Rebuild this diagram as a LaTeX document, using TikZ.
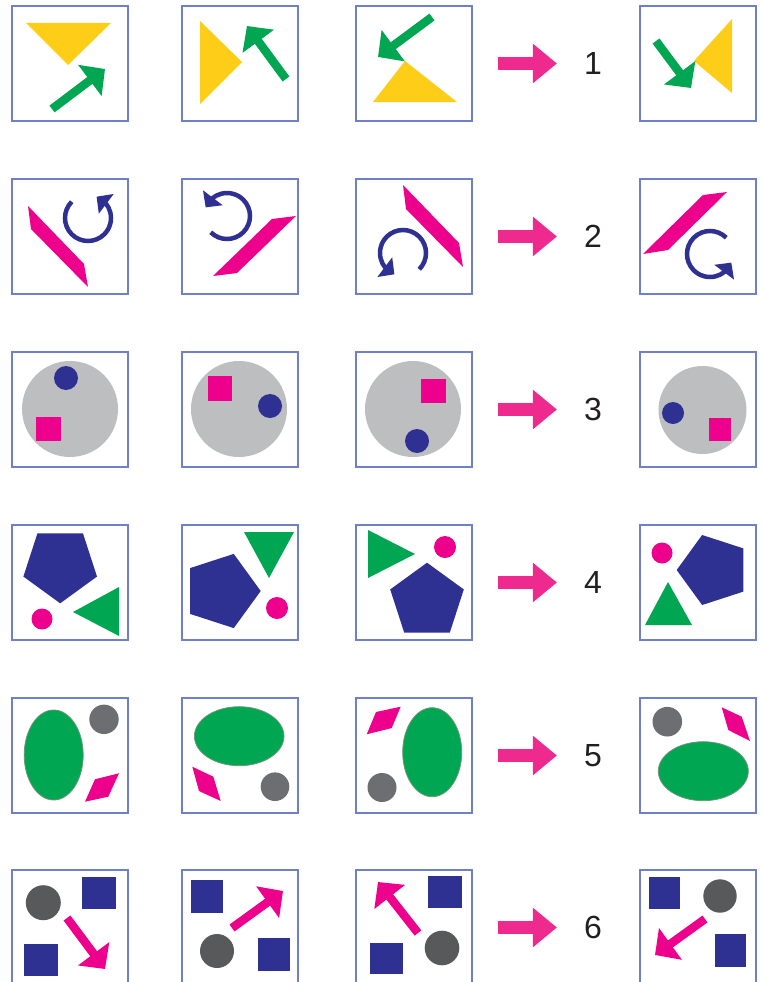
\documentclass[tikz,border=0pt]{standalone}
\usepackage{fontspec}
\setmainfont{Liberation Sans}
\usetikzlibrary{arrows.meta,bending}

\definecolor{framecol}{RGB}{112,128,200}
\definecolor{gold}{RGB}{253,205,24}
\definecolor{leaf}{RGB}{0,166,81}
\definecolor{edgegreen}{RGB}{110,150,120}
\definecolor{shapepink}{RGB}{236,0,140}
\definecolor{arrowpink}{RGB}{238,42,143}
\definecolor{navy}{RGB}{46,49,146}
\definecolor{lightgrey}{RGB}{188,190,192}
\definecolor{midgrey}{RGB}{109,110,113}
\definecolor{darkgrey}{RGB}{88,89,91}
\definecolor{digit}{RGB}{35,31,32}

% navy ring arrow: centre, rotation
\newcommand{\spinarrow}[2]{\draw[spin,shift={#1},rotate=#2] (-135:23) arc[start angle=-135,end angle=-428,radius=23];}
% navy pentagon: centre, radius, angle of one corner
\newcommand{\pentagon}[3]{\fill[navy,shift={#1}] (-#3:#2) -- ({-#3-72}:#2) -- ({-#3-144}:#2) -- ({-#3-216}:#2) -- ({-#3-288}:#2) -- cycle;}

\begin{document}
\begin{tikzpicture}[x=1pt,y=-1pt,
  frame/.style={draw=framecol,line width=1.3pt,minimum width=116pt,minimum height=115pt,inner sep=0pt,outer sep=0pt},
  num/.style={inner sep=0pt,font=\fontsize{32}{36}\selectfont,text=digit},
  bigarrow/.style={arrowpink,line width=13.5pt,-{Triangle[length=24pt,width=38pt]},shorten <=26pt,shorten >=27pt},
  slim/.style={line width=8.5pt,-{Triangle[length=19pt,width=38pt]}},
  spin/.style={navy,line width=4.5pt,-{Triangle[length=12pt,width=24pt]}}]
  \path[use as bounding box,fill=white] (0,0) rectangle (760,982);

  \foreach \rw/\y in {1/63.5,2/236.5,3/409.5,4/582.5,5/755.5,6/927.5}{
    \foreach \cl/\x in {1/70,2/240,3/414,4/698}
      \node[frame] (r\rw-c\cl) at (\x,\y) {};
    \node[num] (n\rw) at (593,\y) {\rw};
    \draw[bigarrow] (r\rw-c3) -- (n\rw);
  }

  % row 1
  \begin{scope}[shift={(r1-c1.north west)}]
    \fill[gold] (14,17) -- (99,17) -- (56,59) -- cycle;
    \draw[slim,leaf] (40,103) -- (93,63);
  \end{scope}
  \begin{scope}[shift={(r1-c2.north west)}]
    \fill[gold] (18,15) -- (18,98) -- (60,56) -- cycle;
    \draw[slim,leaf] (104,73) -- (65,20);
  \end{scope}
  \begin{scope}[shift={(r1-c3.north west)}]
    \fill[gold] (49,55) -- (101,96) -- (17,96) -- cycle;
    \draw[slim,leaf] (76,11) -- (22,51);
  \end{scope}
  \begin{scope}[shift={(r1-c4.north west)}]
    \fill[gold] (54,55) -- (92,13) -- (92,87) -- cycle;
    \draw[slim,leaf] (16,35) -- (51,82);
  \end{scope}

  % row 2
  \begin{scope}[shift={(r2-c1.north west)}]
    \fill[shapepink] (16,27) -- (19,50) -- (76,108) -- (72,85) -- cycle;
    \spinarrow{(76,39)}{0}
  \end{scope}
  \begin{scope}[shift={(r2-c2.north west)}]
    \fill[shapepink] (90,40) -- (114,37) -- (55,94) -- (31,97) -- cycle;
    \spinarrow{(45,37)}{90}
  \end{scope}
  \begin{scope}[shift={(r2-c3.north west)}]
    \fill[shapepink] (47,6) -- (50,30) -- (107,88) -- (103,64) -- cycle;
    \spinarrow{(47,74)}{180}
  \end{scope}
  \begin{scope}[shift={(r2-c4.north west)}]
    \fill[shapepink] (63,16) -- (87,13) -- (28,71) -- (3,75) -- cycle;
    \spinarrow{(70,75)}{270}
  \end{scope}

  % row 3
  \begin{scope}[shift={(r3-c1.north west)}]
    \fill[lightgrey] (58,57) circle[radius=48];
    \fill[navy] (54,26) circle[radius=12];
    \fill[shapepink] (24,65) rectangle (49,89);
  \end{scope}
  \begin{scope}[shift={(r3-c2.north west)}]
    \fill[lightgrey] (57,57) circle[radius=48];
    \fill[shapepink] (26,24) rectangle (50,49);
    \fill[navy] (88,54) circle[radius=12];
  \end{scope}
  \begin{scope}[shift={(r3-c3.north west)}]
    \fill[lightgrey] (57,57) circle[radius=48];
    \fill[shapepink] (65,27) rectangle (90,51);
    \fill[navy] (61,89) circle[radius=12];
  \end{scope}
  \begin{scope}[shift={(r3-c4.north west)}]
    \fill[lightgrey] (62.5,58) circle[radius=44];
    \fill[navy] (33,61) circle[radius=11];
    \fill[shapepink] (69,66) rectangle (91,89);
  \end{scope}

  % row 4
  \begin{scope}[shift={(r4-c1.north west)}]
    \pentagon{(48.2,39.6)}{38.7}{270}
    \fill[shapepink] (30,94) circle[radius=10.5];
    \fill[leaf] (61,87) -- (107,62) -- (107,111) -- cycle;
  \end{scope}
  \begin{scope}[shift={(r4-c2.north west)}]
    \pentagon{(39.7,66)}{39}{0}
    \fill[leaf] (62,7) -- (112,7) -- (87,53) -- cycle;
    \fill[shapepink] (95,83) circle[radius=11];
  \end{scope}
  \begin{scope}[shift={(r4-c3.north west)}]
    \fill[leaf] (12,5) -- (59,29) -- (12,53) -- cycle;
    \fill[shapepink] (89,22) circle[radius=11];
    \pentagon{(71,76.4)}{38.7}{90}
  \end{scope}
  \begin{scope}[shift={(r4-c4.north west)}]
    \fill[shapepink] (22,28) circle[radius=10.5];
    \pentagon{(73.5,45)}{36.8}{180}
    \fill[leaf] (28,57) -- (5,100) -- (52,100) -- cycle;
  \end{scope}

  % row 5
  \begin{scope}[shift={(r5-c1.north west)}]
    \filldraw[fill=leaf,draw=edgegreen,line width=0.8pt] (41.7,57) ellipse[x radius=29.5,y radius=45];
    \fill[midgrey] (92,21.3) circle[radius=14.7];
    \fill[shapepink] (73,103.7) -- (83,81.3) -- (107,75.3) -- (96.3,98.7) -- cycle;
  \end{scope}
  \begin{scope}[shift={(r5-c2.north west)}]
    \filldraw[fill=leaf,draw=edgegreen,line width=0.8pt] (57.2,38.2) ellipse[x radius=44.8,y radius=29.5];
    \fill[shapepink] (10.3,68.7) -- (31.3,78.7) -- (38.7,103) -- (17,93) -- cycle;
    \fill[midgrey] (93,88.7) circle[radius=14.3];
  \end{scope}
  \begin{scope}[shift={(r5-c3.north west)}]
    \fill[shapepink] (10.7,36.3) -- (20,14) -- (44.7,8.7) -- (35.7,30) -- cycle;
    \filldraw[fill=leaf,draw=edgegreen,line width=0.8pt] (76.2,54.2) ellipse[x radius=29.5,y radius=44.5];
    \fill[midgrey] (26,89.5) circle[radius=14.5];
  \end{scope}
  \begin{scope}[shift={(r5-c4.north west)}]
    \fill[midgrey] (27.3,23.7) circle[radius=14.8];
    \fill[shapepink] (81.7,9.3) -- (101.7,18.7) -- (110,43) -- (88.3,32) -- cycle;
    \filldraw[fill=leaf,draw=edgegreen,line width=0.8pt] (63.3,73.2) ellipse[x radius=45,y radius=29.5];
  \end{scope}

  % row 6
  \begin{scope}[shift={(r6-c1.north west)}]
    \fill[darkgrey] (31.3,32.7) circle[radius=17.5];
    \fill[navy] (70,7) rectangle (104,39);
    \fill[navy] (12,74) rectangle (46,106);
    \draw[slim,shapepink] (55,48) -- (93,99);
  \end{scope}
  \begin{scope}[shift={(r6-c2.north west)}]
    \fill[navy] (9,10) rectangle (41,43);
    \draw[slim,shapepink] (50,58) -- (101,21);
    \fill[darkgrey] (35,81) circle[radius=17];
    \fill[navy] (76,68) rectangle (108,101);
  \end{scope}
  \begin{scope}[shift={(r6-c3.north west)}]
    \fill[navy] (72,6) rectangle (106,38);
    \fill[navy] (14,73) rectangle (47,104);
    \fill[darkgrey] (86,78) circle[radius=17.3];
    \draw[slim,shapepink] (62,63) -- (22,12);
  \end{scope}
  \begin{scope}[shift={(r6-c4.north west)}]
    \fill[navy] (9,7) rectangle (40,39);
    \fill[darkgrey] (80,26) circle[radius=16.7];
    \fill[navy] (75,64) rectangle (106,97);
    \draw[slim,shapepink] (65,49) -- (15,85);
  \end{scope}
\end{tikzpicture}
\end{document}
